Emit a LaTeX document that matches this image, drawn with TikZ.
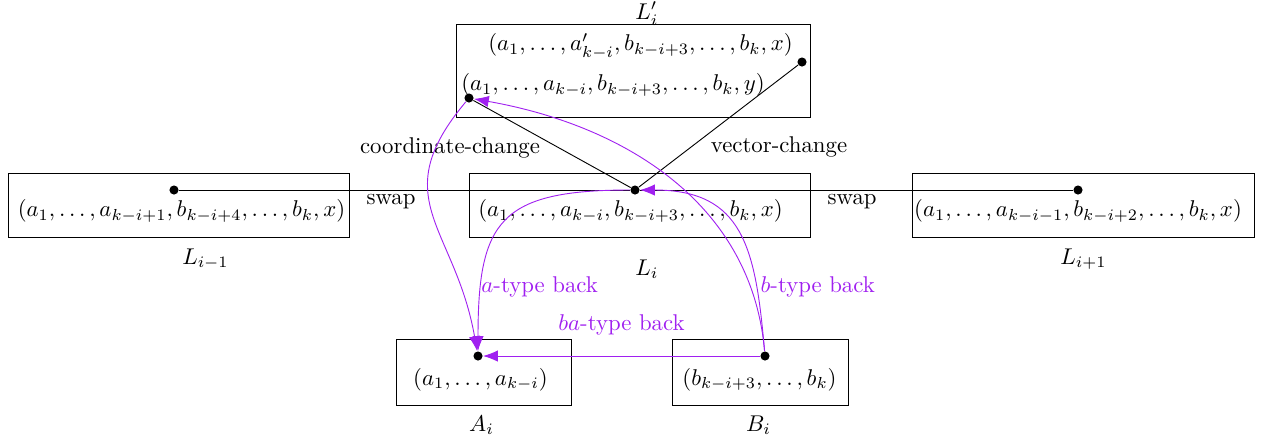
\documentclass[tikz,border=0pt]{standalone}
\usepackage{amsmath}
\usetikzlibrary{positioning,arrows.meta}
\definecolor{backcol}{HTML}{A020F0}

\begin{document}
\begin{tikzpicture}[x=0.4386pt, y=0.4386pt,
  box/.style={draw,minimum width=#1,minimum height=28.1pt},
  box/.default=149.6pt,
  dot/.style={circle,fill,inner sep=0pt,minimum size=4pt},
  back/.style={draw=backcol,-{Latex[length=6.5pt,width=5pt]}},
  backlbl/.style={text=backcol}]
\useasboundingbox (0,0) rectangle (1265,-442);
% layer boxes
\node[box] (lm) at (178.5,-205) {};
\node[box] (li) at (639.5,-205) {};
\node[box=150pt] (lp) at (1083,-205) {};
\node[box=155.3pt,minimum height=40.8pt] (lq) at (633,-70.5) {};
\node[box=76.8pt,minimum height=28.9pt] (ab) at (483.5,-372) {};
\node[box=77.2pt,minimum height=28.9pt] (bb) at (760,-372) {};
% tuples
\node (lmtxt) at (181.5,-211) {$(a_1,\dots,a_{k-i+1},b_{k-i+4},\dots,b_k,x)$};
\node (litxt) at (630.5,-211) {$(a_1,\dots,a_{k-i},b_{k-i+3},\dots,b_k,x)$};
\node (lptxt) at (1078,-211) {$(a_1,\dots,a_{k-i-1},b_{k-i+2},\dots,b_k,x)$};
\node (lqtop) at (640.5,-46.5) {$(a_1,\dots,a'_{k-i},b_{k-i+3},\dots,b_k,x)$};
\node (lqlow) at (613,-85) {$(a_1,\dots,a_{k-i},b_{k-i+3},\dots,b_k,y)$};
\node (atxt) at (480.5,-379.5) {$(a_1,\dots,a_{k-i})$};
\node (btxt) at (759.5,-379.5) {$(b_{k-i+3},\dots,b_k)$};
% names
\node (lmlbl) at (205.5,-259) {$L_{i-1}$};
\node (lilbl) at (647,-269) {$L_i$};
\node (lplbl) at (1083.5,-259) {$L_{i+1}$};
\node (lqlbl) at (647,-13.5) {$L'_i$};
\node (albl) at (481.5,-425) {$A_i$};
\node (blbl) at (758.5,-425) {$B_i$};
% points
\node[dot] (dm) at (174,-190) {};
\node[dot] (dl) at (635,-190) {};
\node[dot] (dp) at (1078,-190) {};
\node[dot] (dv) at (802,-62) {};
\node[dot] (dc) at (469,-98) {};
\node[dot] (da) at (478,-356) {};
\node[dot] (db) at (765,-356) {};
% moves
\draw (dm) -- node[pos=0.47,below,inner sep=1.5pt] {swap} (dl);
\draw (dl) -- node[pos=0.49,below,inner sep=1.5pt] {swap} (dp);
\draw (dl) -- node[pos=0.46,left=4.5pt] {coordinate-change} (dc);
\draw (dl) -- node[pos=0.33,right=5pt] {vector-change} (dv);
% going back
\draw[back] (dl) to[out=180,in=90,looseness=1.5] node[pos=0.81,anchor=west,inner sep=0pt,backlbl] {$a$-type back} (da);
\draw[back] (dc) to[out=230,in=100,looseness=1.3] (da);
\draw[back] (db) to[out=95,in=0,looseness=1.3] node[pos=0.23,anchor=west,inner sep=1.5pt,backlbl] {$b$-type back} (dl);
\draw[back] (db) to[out=95,in=-10,looseness=1.0] (dc);
\draw[back] (db) -- node[above=5.5pt,backlbl] {$ba$-type back} (da);
\end{tikzpicture}
\end{document}
